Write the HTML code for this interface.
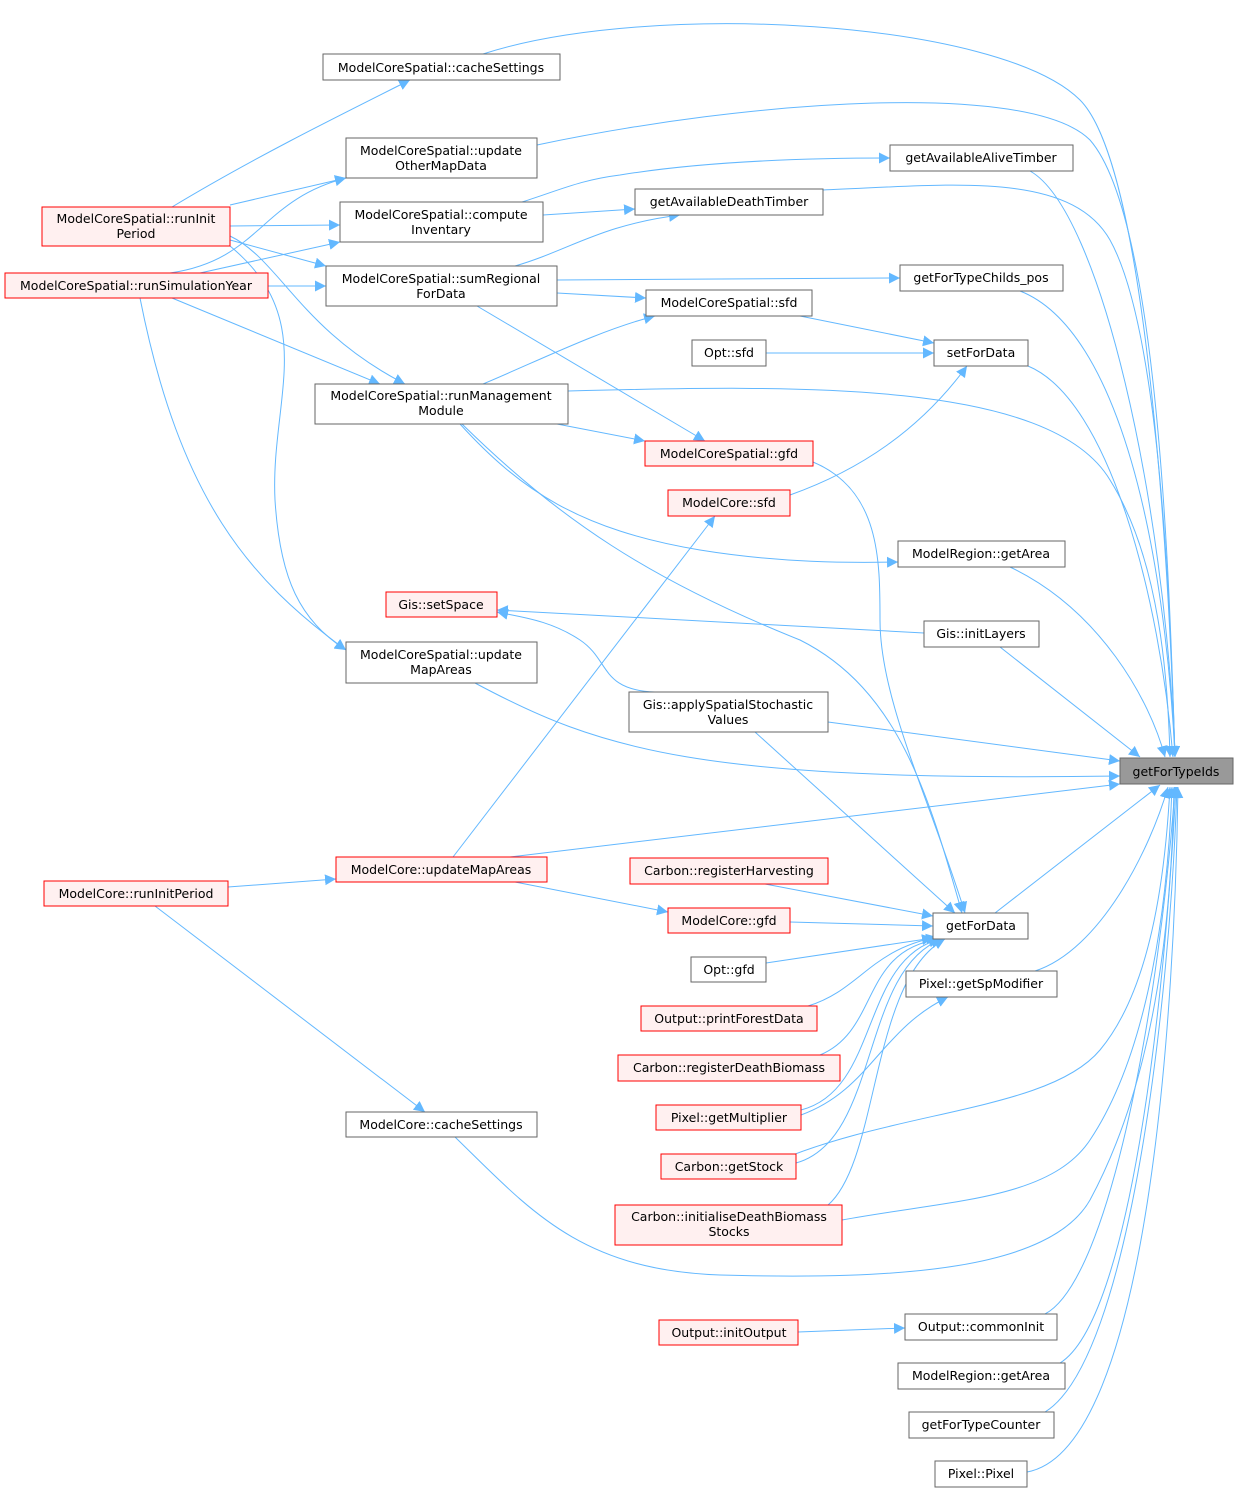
<!DOCTYPE html>
<html><head><meta charset="utf-8"><style>
html,body{margin:0;padding:0;background:#fff;}
svg text{font-family:"DejaVu Sans","Liberation Sans",sans-serif;font-size:12.5px;fill:#000;}
</style></head><body>
<svg width="1239" height="1494" viewBox="0 0 1239 1494" xmlns="http://www.w3.org/2000/svg">
<defs><marker id="a" viewBox="0 0 10 10" refX="10" refY="5" markerWidth="11" markerHeight="11" markerUnits="userSpaceOnUse" orient="auto"><path d="M0,0 L10,5 L0,10 z" fill="#63b8ff"/></marker></defs>
<g fill="none" stroke="#63b8ff" stroke-width="1" marker-end="url(#a)">
<path d="M483,54 C650,0 1000,20 1080,100 C1150,170 1170,600 1175,757"/>
<path d="M537,145 C750,100 1030,80 1090,140 C1160,220 1170,600 1175,757"/>
<path d="M1030,171 C1100,210 1165,500 1175,757"/>
<path d="M823,190 C950,185 1070,170 1110,240 C1160,330 1170,600 1175,757"/>
<path d="M1020,291 C1120,330 1165,550 1175,757"/>
<path d="M1028,366 C1110,400 1160,600 1173,757"/>
<path d="M568,391 C800,385 1050,380 1110,480 C1160,560 1168,680 1170,757"/>
<path d="M1010,567 C1100,610 1150,700 1165,757"/>
<path d="M1000,647 L1140,757"/>
<path d="M828,722 L1120,761"/>
<path d="M475,683 C600,750 700,782 1120,776"/>
<path d="M510,857 L1120,784"/>
<path d="M995,913 L1160,785"/>
<path d="M1035,971 C1100,950 1150,850 1168,787"/>
<path d="M780,1160 C900,1110 1050,1110 1100,1050 C1150,990 1165,880 1170,787"/>
<path d="M842,1220 C950,1200 1050,1200 1090,1140 C1150,1050 1168,900 1172,787"/>
<path d="M455,1137 C530,1210 580,1270 720,1275 C900,1280 1050,1270 1090,1200 C1160,1070 1172,900 1174,787"/>
<path d="M1045,1314 C1110,1280 1160,1000 1175,787"/>
<path d="M1060,1363 C1130,1320 1165,1000 1176,787"/>
<path d="M1045,1412 C1130,1360 1170,1000 1177,787"/>
<path d="M1027,1472 C1150,1450 1175,1000 1178,787"/>
<path d="M172,207 C250,160 330,120 410,80"/>
<path d="M230,205 L346,178"/>
<path d="M230,226 L340,225"/>
<path d="M230,240 L326,266"/>
<path d="M230,236 C280,260 300,330 405,384"/>
<path d="M230,246 C320,320 270,400 275,500 C280,580 300,620 346,650"/>
<path d="M170,273 C260,260 260,200 346,178"/>
<path d="M200,273 L340,242"/>
<path d="M268,286 L326,286"/>
<path d="M172,298 L380,384"/>
<path d="M140,298 C180,500 250,580 346,650"/>
<path d="M543,215 L635,209"/>
<path d="M522,202 C560,190 580,180 620,175 C700,162 800,158 890,158"/>
<path d="M515,266 C570,250 600,225 680,215"/>
<path d="M557,280 L900,278"/>
<path d="M557,293 L646,298"/>
<path d="M477,306 L705,441"/>
<path d="M483,384 C540,360 600,330 655,316"/>
<path d="M557,424 L645,441"/>
<path d="M460,424 C520,490 580,530 700,550 C780,563 850,563 898,562"/>
<path d="M462,424 C560,520 650,580 800,640 C900,690 930,800 962,913"/>
<path d="M800,316 L934,343"/>
<path d="M766,353 L934,353"/>
<path d="M790,495 C860,470 920,430 967,366"/>
<path d="M813,462 C880,490 880,560 880,620 C880,700 930,800 965,913"/>
<path d="M453,857 L715,516"/>
<path d="M515,882 L668,912"/>
<path d="M228,887 L336,879"/>
<path d="M155,906 L425,1112"/>
<path d="M924,633 L497,610"/>
<path d="M655,692 C600,690 610,660 580,640 C550,620 520,617 497,612"/>
<path d="M755,732 L955,913"/>
<path d="M765,884 L933,916"/>
<path d="M790,922 L933,926"/>
<path d="M766,963 L933,938"/>
<path d="M808,1006 C860,990 870,950 937,937"/>
<path d="M820,1055 C880,1030 860,950 940,939"/>
<path d="M801,1110 C880,1090 860,960 940,939"/>
<path d="M801,1115 C870,1090 880,1030 948,997"/>
<path d="M796,1163 C880,1140 860,970 942,939"/>
<path d="M828,1205 C880,1160 870,980 945,939"/>
<path d="M798,1332 L905,1328"/>
</g>
<g stroke-width="1">
<rect x="1120" y="758" width="113" height="26" fill="#999" stroke="#666"/><text x="1176" y="776" text-anchor="middle">getForTypeIds</text>
<g fill="#fff" stroke="#666">
<rect x="323" y="54" width="237" height="26"/><rect x="346" y="138" width="191" height="40"/><rect x="890" y="145" width="183" height="26"/><rect x="635" y="189" width="188" height="26"/><rect x="340" y="202" width="203" height="40"/><rect x="326" y="266" width="231" height="40"/><rect x="900" y="265" width="163" height="26"/><rect x="646" y="290" width="166" height="26"/><rect x="692" y="340" width="74" height="26"/><rect x="934" y="340" width="94" height="26"/><rect x="315" y="384" width="253" height="40"/><rect x="898" y="541" width="167" height="26"/><rect x="924" y="621" width="115" height="26"/><rect x="346" y="642" width="191" height="41"/><rect x="629" y="692" width="199" height="40"/><rect x="933" y="913" width="95" height="26"/><rect x="691" y="957" width="75" height="25"/><rect x="906" y="971" width="151" height="26"/><rect x="346" y="1112" width="191" height="25"/><rect x="905" y="1314" width="152" height="26"/><rect x="898" y="1363" width="167" height="26"/><rect x="909" y="1412" width="145" height="26"/><rect x="935" y="1461" width="92" height="26"/>
</g>
<g fill="#fff0f0" stroke="#f00">
<rect x="42" y="207" width="188" height="39"/><rect x="5" y="273" width="263" height="25"/><rect x="645" y="441" width="168" height="25"/><rect x="668" y="490" width="122" height="26"/><rect x="386" y="592" width="111" height="25"/><rect x="336" y="857" width="211" height="25"/><rect x="44" y="881" width="184" height="25"/><rect x="630" y="858" width="198" height="26"/><rect x="668" y="908" width="122" height="25"/><rect x="641" y="1006" width="176" height="25"/><rect x="618" y="1055" width="222" height="26"/><rect x="656" y="1105" width="145" height="25"/><rect x="661" y="1154" width="135" height="25"/><rect x="615" y="1205" width="227" height="40"/><rect x="659" y="1320" width="139" height="25"/>
</g>
</g>
<g text-anchor="middle">
<text x="441" y="72">ModelCoreSpatial::cacheSettings</text>
<text x="441" y="155">ModelCoreSpatial::update</text><text x="441" y="170">OtherMapData</text>
<text x="981" y="162">getAvailableAliveTimber</text>
<text x="729" y="206">getAvailableDeathTimber</text>
<text x="136" y="223">ModelCoreSpatial::runInit</text><text x="136" y="238">Period</text>
<text x="441" y="219">ModelCoreSpatial::compute</text><text x="441" y="234">Inventary</text>
<text x="441" y="283">ModelCoreSpatial::sumRegional</text><text x="441" y="298">ForData</text>
<text x="981" y="282">getForTypeChilds_pos</text>
<text x="136" y="290">ModelCoreSpatial::runSimulationYear</text>
<text x="729" y="307">ModelCoreSpatial::sfd</text>
<text x="729" y="357">Opt::sfd</text>
<text x="981" y="357">setForData</text>
<text x="441" y="400">ModelCoreSpatial::runManagement</text><text x="441" y="415">Module</text>
<text x="729" y="458">ModelCoreSpatial::gfd</text>
<text x="729" y="507">ModelCore::sfd</text>
<text x="981" y="558">ModelRegion::getArea</text>
<text x="441" y="609">Gis::setSpace</text>
<text x="981" y="638">Gis::initLayers</text>
<text x="441" y="659">ModelCoreSpatial::update</text><text x="441" y="674">MapAreas</text>
<text x="728" y="709">Gis::applySpatialStochastic</text><text x="728" y="724">Values</text>
<text x="441" y="874">ModelCore::updateMapAreas</text>
<text x="136" y="898">ModelCore::runInitPeriod</text>
<text x="729" y="875">Carbon::registerHarvesting</text>
<text x="981" y="930">getForData</text>
<text x="729" y="925">ModelCore::gfd</text>
<text x="729" y="974">Opt::gfd</text>
<text x="981" y="988">Pixel::getSpModifier</text>
<text x="729" y="1023">Output::printForestData</text>
<text x="729" y="1072">Carbon::registerDeathBiomass</text>
<text x="729" y="1122">Pixel::getMultiplier</text>
<text x="441" y="1129">ModelCore::cacheSettings</text>
<text x="729" y="1171">Carbon::getStock</text>
<text x="729" y="1221">Carbon::initialiseDeathBiomass</text><text x="729" y="1236">Stocks</text>
<text x="981" y="1331">Output::commonInit</text>
<text x="729" y="1337">Output::initOutput</text>
<text x="981" y="1380">ModelRegion::getArea</text>
<text x="981" y="1429">getForTypeCounter</text>
<text x="981" y="1478">Pixel::Pixel</text>
</g>
</svg>
</body></html>
